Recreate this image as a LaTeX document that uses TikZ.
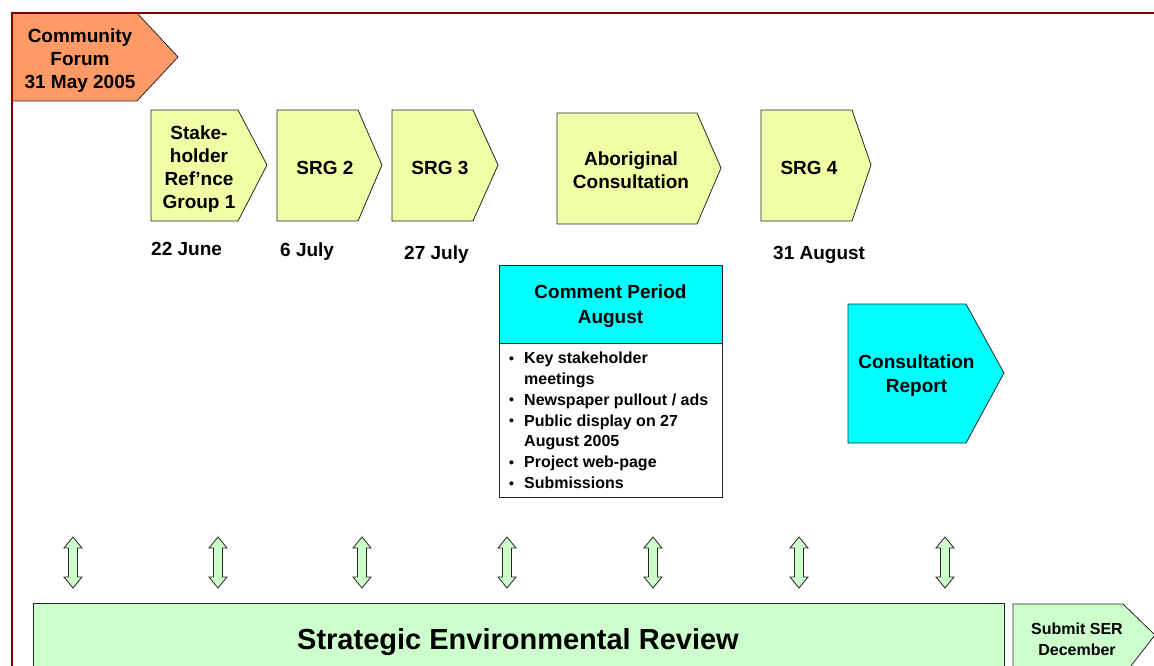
\documentclass[tikz,border=0pt]{standalone}
\usepackage{fontspec}
\setmainfont{Liberation Sans}
\definecolor{frameRed}{RGB}{128,0,0}
\definecolor{salmon}{RGB}{255,153,102}
\definecolor{paleYellow}{RGB}{240,255,165}
\definecolor{cyanBox}{RGB}{0,255,255}
\definecolor{paleGreen}{RGB}{204,255,204}
\newcommand{\bul}{\makebox[17pt][l]{\hspace{2pt}\raisebox{0.5pt}{\fontsize{14}{14}\selectfont •}}}
\begin{document}
\begin{tikzpicture}[x=1pt,y=-1pt,
  shapeline/.style={draw=black!85,line width=0.8pt},
  lbl/.style={font=\bfseries\fontsize{19}{23}\selectfont,align=center,inner sep=0pt},
  datelbl/.style={font=\bfseries\fontsize{19}{23}\selectfont,anchor=base west,inner sep=0pt},
  bullets/.style={font=\bfseries\fontsize{16}{20.8}\selectfont,align=left,inner sep=0pt,anchor=north west},
  dblarrow/.style={draw=black!85,line width=0.8pt,fill=paleGreen}
]
\useasboundingbox (0,0) rectangle (1154,666);
\clip (0,0) rectangle (1154,666);
\fill[white] (0,0) rectangle (1154,666);

% Community Forum
\draw[shapeline,fill=salmon] (12,13) -- (137,13) -- (178,57) -- (137,101) -- (12,101) -- cycle;
\node[lbl] (cf) at (80,60.5) {Community\\Forum\\31 May 2005};

% frame
\draw[frameRed,line width=2pt] (1160,13) -- (12,13) -- (12,670);

% Yellow pentagons
\draw[shapeline,fill=paleYellow] (151,110) -- (238,110) -- (267,165) -- (238,221) -- (151,221) -- cycle;
\node[lbl] (srg1) at (199,169) {Stake-\\holder\\Ref’nce\\Group 1};
\draw[shapeline,fill=paleYellow] (277,110) -- (358,110) -- (382,165) -- (358,221) -- (277,221) -- cycle;
\node[lbl] (srg2) at (325,167.5) {SRG 2};
\draw[shapeline,fill=paleYellow] (392,110) -- (473,110) -- (498,165) -- (473,221) -- (392,221) -- cycle;
\node[lbl] (srg3) at (440,167.5) {SRG 3};
\draw[shapeline,fill=paleYellow] (557,113) -- (697,113) -- (721,168) -- (697,224) -- (557,224) -- cycle;
\node[lbl] (abo) at (631,170) {Aboriginal\\Consultation};
\draw[shapeline,fill=paleYellow] (761,110) -- (852,110) -- (871,165) -- (852,221) -- (761,221) -- cycle;
\node[lbl] (srg4) at (809,167.5) {SRG 4};

% dates
\node[datelbl] (d1) at (151,255.5) {22 June};
\node[datelbl] (d2) at (280,256.5) {6 July};
\node[datelbl] (d3) at (404,259.5) {27 July};
\node[datelbl] (d4) at (773,259.5) {31 August};

% Comment period
\draw[shapeline,fill=cyanBox] (499,265) rectangle (722,343);
\draw[shapeline,fill=white] (499,343) rectangle (722,497);
\node[lbl,font=\bfseries\fontsize{19}{25}\selectfont] (cp) at (610.5,306.5) {Comment Period\\August};
\node[bullets] (cpb) at (507,352) {%
\bul Key stakeholder\\
\hspace*{17pt}meetings\\
\bul Newspaper pullout / ads\\
\bul Public display on 27\\
\hspace*{17pt}August 2005\\
\bul Project web-page\\
\bul Submissions};

% Consultation report
\draw[shapeline,fill=cyanBox] (848,304) -- (966,304) -- (1004,373) -- (966,443) -- (848,443) -- cycle;
\node[lbl,font=\bfseries\fontsize{19}{24}\selectfont] (cr) at (916.5,376) {Consultation\\Report};

% double arrows
\foreach \ax/\nm in {73/a1,218/a2,362/a3,507/a4,653/a5,799/a6,945/a7}{
  \draw[dblarrow] (\ax,537) -- (\ax+9,548) -- (\ax+4.5,548) -- (\ax+4.5,577) -- (\ax+9,577)
     -- (\ax,588) -- (\ax-9,577) -- (\ax-4.5,577) -- (\ax-4.5,548) -- (\ax-9,548) -- cycle;
  \coordinate (\nm) at (\ax,562);
}

% SER
\draw[shapeline,fill=paleGreen] (33,603) rectangle (1004,700);
\node[font=\bfseries\fontsize{29}{34}\selectfont,inner sep=0pt] (ser) at (518,642.5) {Strategic Environmental Review};

% Submit SER
\draw[shapeline,fill=paleGreen] (1013,604) -- (1123,604) -- (1155,635) -- (1123,676) -- (1013,676) -- cycle;
\node[font=\bfseries\fontsize{16}{21}\selectfont,align=center,inner sep=0pt] (sub) at (1077,639.5) {Submit SER\\December};
\end{tikzpicture}
\end{document}
